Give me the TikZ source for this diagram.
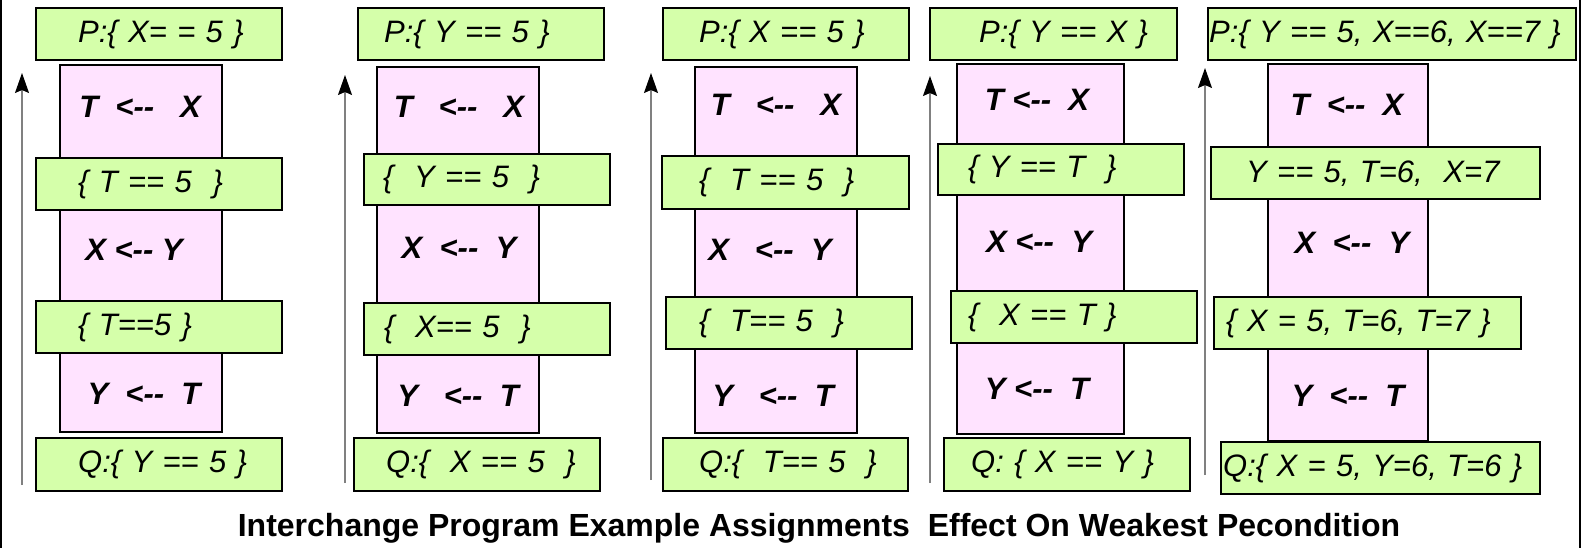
\documentclass[tikz,border=0pt]{standalone}
\usepackage{fontspec}
\newfontfamily\progfont{Liberation Sans}
\usepackage{xcolor}
\definecolor{CondGreen}{HTML}{D5FFAA}
\definecolor{ProgPink}{HTML}{FFE3FF}
\definecolor{ArrowGray}{HTML}{808080}
\usepackage{tikz}
\usetikzlibrary{arrows.meta}
\newcommand{\condfont}{\progfont\itshape\fontsize{31}{36}\selectfont}
\newcommand{\stmtfont}{\progfont\bfseries\itshape\fontsize{31}{36}\selectfont}
\newcommand{\titlefont}{\progfont\bfseries\fontsize{32}{36}\selectfont}
\tikzset{
  cond/.style={draw=black,line width=2.4pt,fill=CondGreen,anchor=north west,inner sep=0pt,minimum height=52pt,text width=#1,align=left,font=\condfont},
  prog/.style={draw=black,line width=2.4pt,fill=ProgPink,anchor=north west,inner sep=0pt,minimum width=162pt},
  stmt/.style={inner sep=0pt,font=\stmtfont},
  upflow/.style={-{Stealth[length=20pt,width=14pt,inset=3pt,color=black]},draw=ArrowGray,line width=1.2pt}
}

\begin{document}
\begin{tikzpicture}[x=1pt,y=-1pt]
  \useasboundingbox (0,0) rectangle (1583,548);
  \draw[line width=1.5pt] (1,0) -- (1,548);
  \draw[line width=1.5pt] (1580,0) -- (1580,548);

  % column 1
  \coordinate (a1s) at (22,485);
  \coordinate (a1e) at (22,73);
  \draw[upflow] (a1s) -- (a1e);
  \node[prog,minimum height=367pt] (prog1) at (59,64) {};
  \node[stmt] (s11) at (140,107) {T\ \ <-{}-\ \ \ X};
  \node[stmt] (s12) at (134,250) {X <-{}- Y};
  \node[stmt] (s13) at (144,394) {Y\ \ <-{}-\ \ T};
  \node[cond=246pt] (p1) at (35,7) {\hspace*{42pt}P:\{ X= = 5 \}};
  \node[cond=246pt] (c11) at (35,157) {\hspace*{42pt}\{ T == 5 \ \}};
  \node[cond=246pt] (c12) at (35,300) {\hspace*{42pt}\{ T==5 \}};
  \node[cond=246pt,minimum height=53pt] (q1) at (35,437) {\hspace*{42pt}Q:\{ Y == 5 \}};

  % column 2
  \coordinate (a2s) at (345,483);
  \coordinate (a2e) at (345,75);
  \draw[upflow] (a2s) -- (a2e);
  \node[prog,minimum height=366pt] (prog2) at (376,66) {};
  \node[stmt] (s21) at (459,107) {T\ \ \ <-{}-\ \ \ X};
  \node[stmt] (s22) at (459,248) {X\ \ <-{}-\ \ Y};
  \node[stmt] (s23) at (458,396) {Y\ \ \ <-{}-\ \ T};
  \node[cond=246pt] (p2) at (357,7) {\hspace*{26pt}P:\{ Y == 5 \}};
  \node[cond=246pt,minimum height=51pt] (c21) at (363,153) {\hspace*{19pt}\{ \ Y == 5 \ \}};
  \node[cond=246pt] (c22) at (363,302) {\hspace*{20pt}\{ \ X== 5 \ \}};
  \node[cond=246pt,minimum height=53pt] (q2) at (353,437) {\hspace*{32pt}Q:\{ \ X == 5 \ \}};

  % column 3
  \coordinate (a3s) at (651,480);
  \coordinate (a3e) at (651,73);
  \draw[upflow] (a3s) -- (a3e);
  \node[prog,minimum height=366pt] (prog3) at (694,66) {};
  \node[stmt] (s31) at (776,105) {T\ \ \ <-{}-\ \ \ X};
  \node[stmt] (s32) at (770,250) {X\ \ \ <-{}-\ \ Y};
  \node[stmt] (s33) at (773,396) {Y\ \ \ <-{}-\ \ T};
  \node[cond=246pt] (p3) at (662,7) {\hspace*{36pt}P:\{ X == 5 \}};
  \node[cond=247pt,minimum height=53pt] (c31) at (661,155) {\hspace*{37pt}\{ \ T == 5 \ \}};
  \node[cond=246pt] (c32) at (665,296) {\hspace*{33pt}\{ \ T== 5 \ \}};
  \node[cond=245pt,minimum height=53pt] (q3) at (662,437) {\hspace*{36pt}Q:\{ \ T== 5 \ \}};

  % column 4
  \coordinate (a4s) at (930,483);
  \coordinate (a4e) at (930,76);
  \draw[upflow] (a4s) -- (a4e);
  \node[prog,minimum width=167pt,minimum height=370pt] (prog4) at (956,63) {};
  \node[stmt] (s41) at (1037,100) {T\ <-{}-\ \ X};
  \node[stmt] (s42) at (1039,242) {X\ <-{}-\ \ Y};
  \node[stmt] (s43) at (1037,389) {Y\ <-{}-\ \ T};
  \node[cond=247pt] (p4) at (929,7) {\hspace*{49pt}P:\{ Y == X \}};
  \node[cond=246pt,minimum height=51pt] (c41) at (937,143) {\hspace*{30pt}\{ Y == T \ \}};
  \node[cond=246pt] (c42) at (950,290) {\hspace*{17pt}\{ \ X == T \}};
  \node[cond=246pt,minimum height=53pt] (q4) at (943,437) {\hspace*{27pt}Q: \{ X == Y \}};

  % column 5
  \coordinate (a5s) at (1205,475);
  \coordinate (a5e) at (1205,68);
  \draw[upflow] (a5s) -- (a5e);
  \node[prog,minimum width=160pt,minimum height=377pt] (prog5) at (1267,63) {};
  \node[stmt] (s51) at (1347,105) {T\ \ <-{}-\ \ X};
  \node[stmt] (s52) at (1352,243) {X\ \ <-{}-\ \ Y};
  \node[stmt] (s53) at (1348,396) {Y\ \ <-{}-\ \ T};
  \node[cond=368pt] (p5) at (1207,7) {\hspace*{1pt}P:\{ Y == 5, X==6, X==7 \}};
  \node[cond=329pt] (c51) at (1210,146) {\hspace*{35pt}Y == 5, T=6, \ X=7};
  \node[cond=307pt] (c52) at (1213,296) {\hspace*{12pt}\{ X = 5, T=6, T=7 \}};
  \node[cond=319pt] (q5) at (1220,441) {\hspace*{2pt}Q:\{ X = 5, Y=6, T=6 \}};

  \node[font=\titlefont] (title) at (819,528) {Interchange Program Example Assignments\ \ Effect On Weakest Pecondition};
\end{tikzpicture}
\end{document}
